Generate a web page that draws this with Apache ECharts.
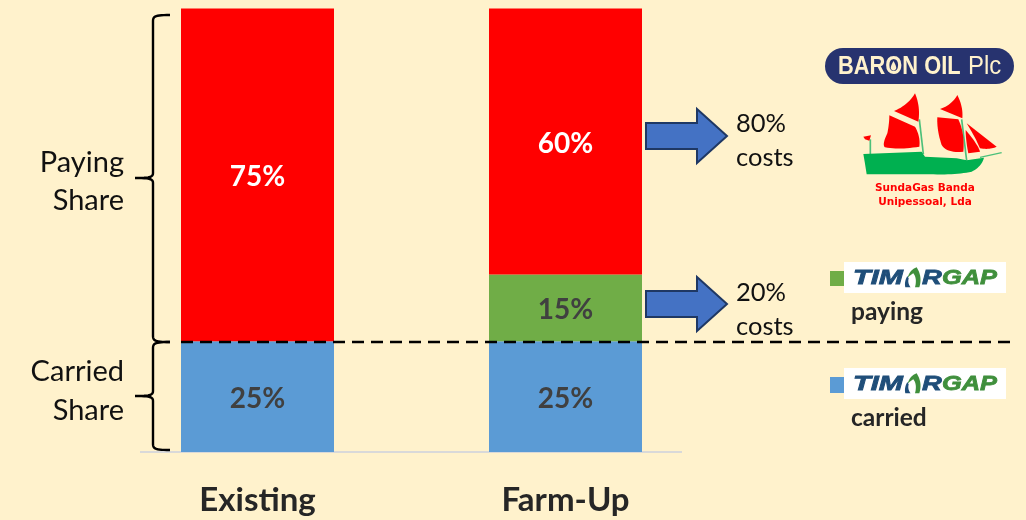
<!DOCTYPE html>
<html><head><meta charset="utf-8">
<style>html,body{margin:0;padding:0;background:#fff2cc}#c{width:1026px;height:520px}</style>
<script src="https://cdn.jsdelivr.net/npm/echarts@6/dist/echarts.min.js"></script>
</head><body><div id="c"></div>
<script>
var categories = ['Existing', 'Farm-Up'];
var carriedShare = [25, 25];
var timorPaying = [null, 15];
var partnersPaying = [75, 60];

var FONT = 'Lato, Carlito, "Open Sans", sans-serif';
var LIB = '"Liberation Sans",sans-serif';
var chart = echarts.init(document.getElementById('c'), null, {renderer:'canvas'});

function flatten(d) {
  var t = d.match(/[MLQCZ]|-?[\d.]+/g), i = 0, pts = [], cur = [0,0], cmd;
  function n(){ return parseFloat(t[i++]); }
  while (i < t.length) {
    if (/[MLQCZ]/.test(t[i])) cmd = t[i++];
    if (cmd === 'Z') continue;
    if (cmd === 'M' || cmd === 'L') { cur = [n(), n()]; pts.push(cur); }
    else if (cmd === 'Q') {
      var a=[n(),n()], b=[n(),n()];
      for (var k=1;k<=12;k++){ var s=k/12,u=1-s; pts.push([u*u*cur[0]+2*u*s*a[0]+s*s*b[0], u*u*cur[1]+2*u*s*a[1]+s*s*b[1]]); }
      cur = b;
    } else if (cmd === 'C') {
      var c1=[n(),n()], c2=[n(),n()], e=[n(),n()];
      for (var k2=1;k2<=12;k2++){ var s2=k2/12,v=1-s2;
        pts.push([v*v*v*cur[0]+3*v*v*s2*c1[0]+3*v*s2*s2*c2[0]+s2*s2*s2*e[0], v*v*v*cur[1]+3*v*v*s2*c1[1]+3*v*s2*s2*c2[1]+s2*s2*s2*e[1]]); }
      cur = e;
    }
  }
  return pts;
}
function txt(x, y, s, size, opt) {
  opt = opt || {};
  var st = {text:s, fontFamily:opt.family||FONT, fontSize:size,
    fontWeight:opt.weight||'normal', fontStyle:opt.italic?'italic':'normal', fill:opt.fill||'#111',
    align:opt.align||'left', verticalAlign:'middle'};
  if (opt.heavy) { st.stroke = opt.fill; st.lineWidth = opt.heavy; }
  return {type:'text', x:x, y:y, z:opt.z||20, scaleX:opt.sx||1, style:st};
}
function arrow(cy) {
  return {type:'polygon', z:20, shape:{points:[[646,cy-13],[697,cy-13],[697,cy-27],[727,cy],[697,cy+27],[697,cy+13],[646,cy+13]]},
    style:{fill:'#4472c4', stroke:'#1f3864', lineWidth:2}};
}
function brace(x, top, mid, bot) {
  var tipX = x+17, sp = x, l = x-18;
  return {type:'polyline', z:20, shape:{points:flatten(
    'M'+tipX+' '+top+' C'+(sp+3)+' '+top+' '+sp+' '+(top+1)+' '+sp+' '+(top+6)+
    ' L'+sp+' '+(mid-5)+' C'+sp+' '+(mid-1)+' '+(sp-3)+' '+mid+' '+l+' '+mid+
    ' C'+(sp-3)+' '+mid+' '+sp+' '+(mid+1)+' '+sp+' '+(mid+5)+
    ' L'+sp+' '+(bot-6)+' C'+sp+' '+(bot-1)+' '+(sp+3)+' '+bot+' '+tipX+' '+bot)},
    style:{fill:null, stroke:'#000', lineWidth:2.4}};
}
function timor(y) {
  var o = {family:LIB, italic:true, weight:'bold', z:21, fill:'#1f4e79', heavy:0.8};
  var g = {family:LIB, italic:true, weight:'bold', z:21, fill:'#3f8f3c', heavy:0.8};
  var c = y + 16;
  return [
    {type:'rect', z:20, shape:{x:844,y:y,width:162,height:31}, style:{fill:'#fff'}},
    txt(853, c, 'TIM', 21, Object.assign({sx:1.38}, o)),
    txt(922, c, 'R', 21, Object.assign({sx:1.3}, o)),
    txt(942, c, 'GAP', 21, Object.assign({sx:1.21}, g)),
    {type:'group', x:800, y:y-12, scaleX:1/3, scaleY:1/3, children:[
      {type:'polygon', z:21, shape:{points:flatten('M322 85 Q330 58 350 52 Q368 80 358 112 L345 112 Q352 85 340 70 Q330 75 322 85Z')}, style:{fill:'#3f8f3c'}},
      {type:'polygon', z:21, shape:{points:flatten('M316 112 Q312 95 322 78 L326 85 Q322 100 332 112Z')}, style:{fill:'#1f4e79'}}
    ]}
  ];
}
var shipRed = [
 'M345 190 Q362 230 355 275 L282 243 Q325 225 345 190Z',
 'M268 256 L345 290 Q362 320 358 350 Q300 360 255 352 Q245 345 262 310 Q268 280 268 256Z',
 'M472 195 Q490 230 487 265 L420 237 Q455 225 472 195Z',
 'M412 262 L475 268 Q495 310 490 365 Q440 370 425 345 Q410 300 412 262Z',
 'M497 300 Q535 345 540 365 L505 370 Q497 330 497 300Z',
 'M500 280 L590 350 Q570 360 540 355 Q525 320 500 280Z',
 'M190 320 L213 316 L208 332 L195 328Z'
];
var ship = {type:'group', x:800, y:30, scaleX:1/3, scaleY:1/3, children:
  [
   {type:'line', z:20, shape:{x1:358,y1:268,x2:370,y2:372}, style:{stroke:'#4cc07a',lineWidth:5}},
   {type:'line', z:20, shape:{x1:485,y1:268,x2:500,y2:392}, style:{stroke:'#4cc07a',lineWidth:5}},
   {type:'line', z:20, shape:{x1:211,y1:328,x2:211,y2:372}, style:{stroke:'#4cc07a',lineWidth:5}},
   {type:'line', z:20, shape:{x1:540,y1:382,x2:605,y2:368}, style:{stroke:'#4cc07a',lineWidth:4}}
  ].concat(shipRed.map(function(d){return {type:'polygon', z:21, shape:{points:flatten(d)}, style:{fill:'#ff0000'}};}), [
   {type:'polygon', z:21, shape:{points:flatten('M190 372 L365 365 L375 380 L470 385 L500 391 L552 383 Q545 410 515 425 Q470 435 400 433 L200 433 Q195 400 190 372Z')}, style:{fill:'#00b050'}}
  ])};

var graphics = [
  {type:'line', z:1, shape:{x1:140,y1:452,x2:682,y2:452}, style:{stroke:'#d9d9d9',lineWidth:2}},
  {type:'line', z:30, shape:{x1:181,y1:342,x2:1015,y2:342}, style:{stroke:'#000',lineWidth:2.6,lineDash:[12,7]}},
  brace(153, 15, 178, 342),
  brace(153, 342, 396, 450),
  txt(124,163,'Paying',29,{align:'right'}), txt(124,201,'Share',29,{align:'right'}),
  txt(124,372,'Carried',29,{align:'right'}), txt(124,411,'Share',29,{align:'right'}),
  arrow(136), arrow(304),
  txt(736,124,'80%',25.5), txt(736,158,'costs',25.5),
  txt(736,293,'20%',25.5), txt(736,327,'costs',25.5),
  {type:'rect', z:20, shape:{x:825,y:48,width:189,height:36,r:18}, style:{fill:'#27336f'}},
  txt(838,67,'BARON OIL',26,{family:LIB,weight:'bold',fill:'#fff2cc',sx:0.84,z:21}),
  txt(968,67,'Plc',26,{family:LIB,fill:'#fff2cc',sx:0.92,z:21}),
  {type:'polygon', z:22, shape:{points:flatten('M893.5 61 Q897 67 896 69 Q893.5 72 891 69 Q890 67 893.5 61Z')}, style:{fill:'#fff2cc'}},
  ship,
  txt(925,188,'SundaGas Banda',10.5,{align:'center',weight:'bold',fill:'#ff0000',family:'"DejaVu Sans",sans-serif'}),
  txt(925,202,'Unipessoal, Lda',10.5,{align:'center',weight:'bold',fill:'#ff0000',family:'"DejaVu Sans",sans-serif'}),
  {type:'rect', z:20, shape:{x:830,y:271,width:14,height:15}, style:{fill:'#70ad47'}},
  {type:'rect', z:20, shape:{x:830,y:377,width:14,height:16}, style:{fill:'#5b9bd5'}}
].concat(timor(262), timor(368), [
  txt(851,312,'paying',24.5,{weight:'bold',fill:'#262626'}),
  txt(851,418,'carried',24.5,{weight:'bold',fill:'#262626'})
]);

function lab(color){ return {show:true, position:'inside', offset:[0,2.5], formatter:'{c}%', fontFamily:FONT, fontWeight:'bold', fontSize:28, color:color}; }
chart.setOption({
  animation:false,
  backgroundColor:'#fff2cc',
  grid:{left:103.5, width:616, top:8.5, height:443.5, containLabel:false},
  xAxis:{type:'category', data:categories, axisLine:{show:false}, axisTick:{show:false},
    axisLabel:{margin:32, fontFamily:FONT, fontWeight:'bold', fontSize:33, color:'#262626'}},
  yAxis:{type:'value', min:0, max:100, show:false, splitLine:{show:false}},
  series:[
    {name:'Carried', type:'bar', stack:'s', barWidth:153, data:carriedShare, itemStyle:{color:'#5b9bd5'}, label:lab('#404040')},
    {name:'TimorGAP paying', type:'bar', stack:'s', barWidth:153, data:timorPaying, itemStyle:{color:'#70ad47'}, label:lab('#404040')},
    {name:'Partners', type:'bar', stack:'s', barWidth:153, data:partnersPaying, itemStyle:{color:'#ff0000'}, label:lab('#ffffff')}
  ],
  graphic:{elements:graphics}
});
</script></body></html>
